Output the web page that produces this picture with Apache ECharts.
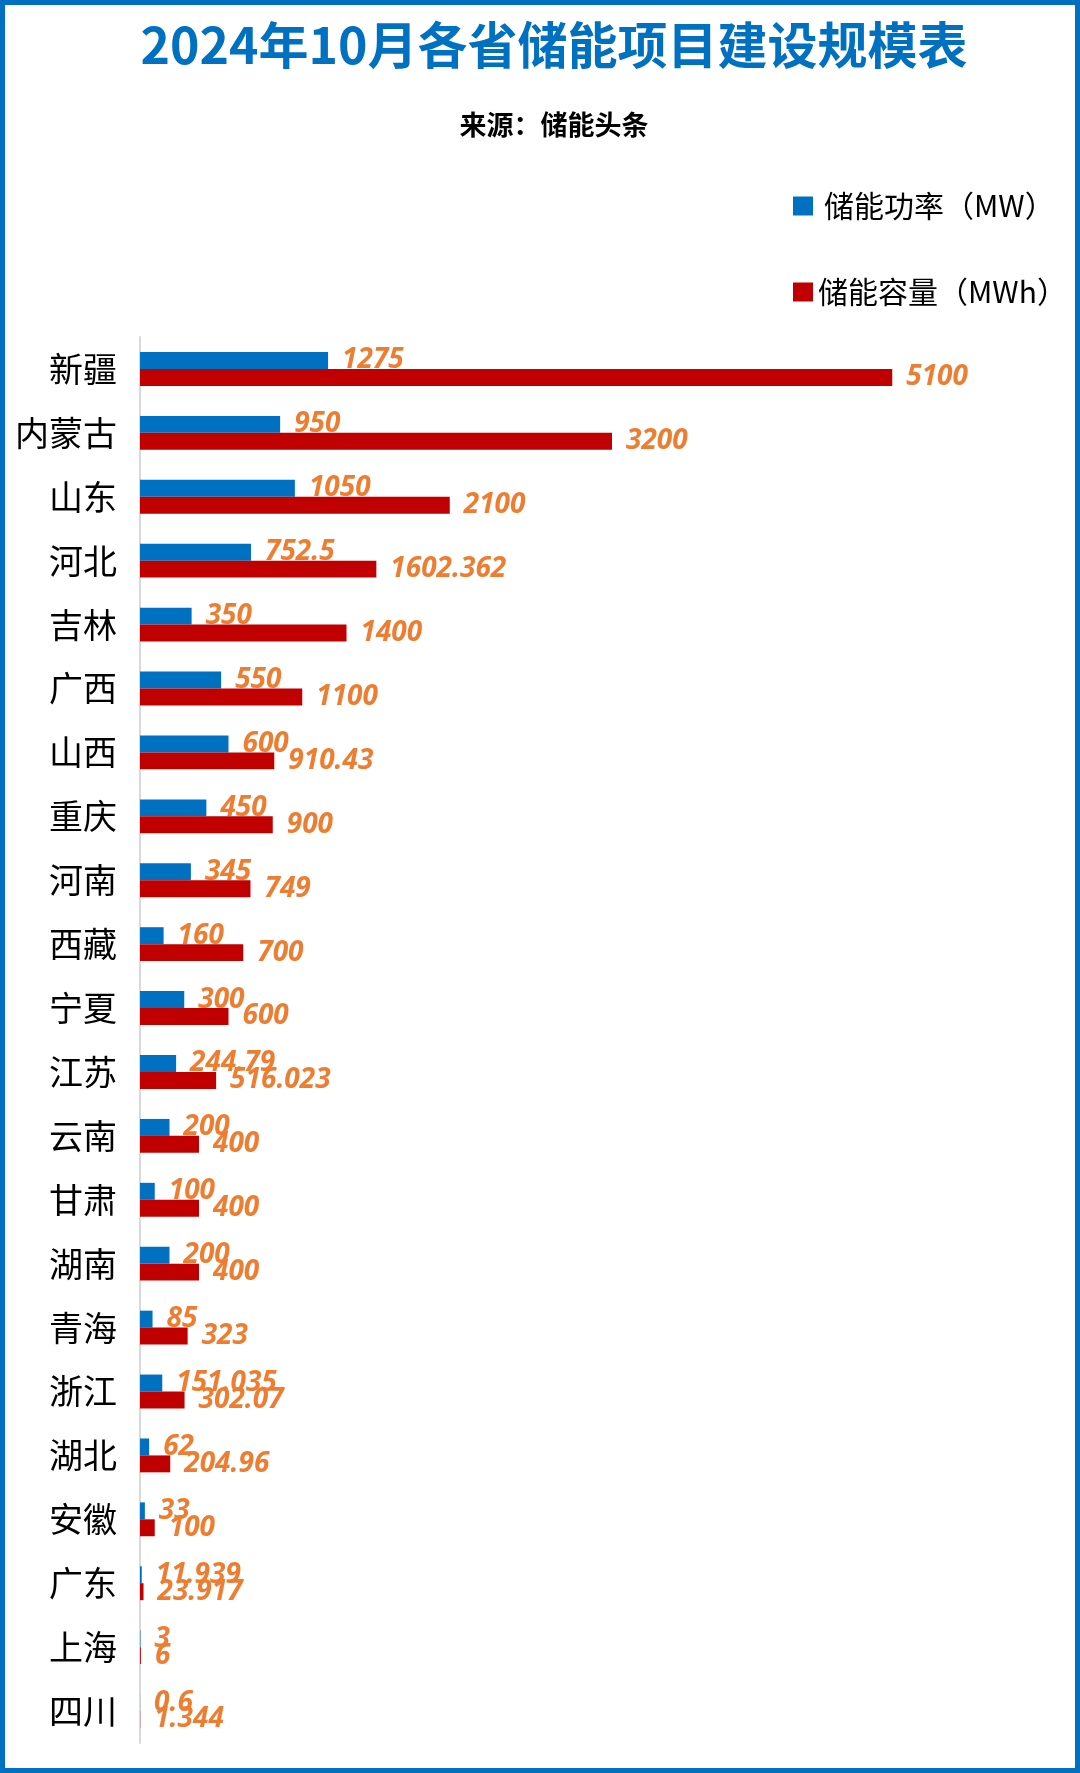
<!DOCTYPE html>
<html>
<head>
<meta charset="utf-8">
<title>2024年10月各省储能项目建设规模表</title>
<script src="https://cdn.jsdelivr.net/npm/echarts@6/dist/echarts.min.js"></script>
<style>
  html, body { margin: 0; padding: 0; background: #fff; }
  #chart { width: 1080px; height: 1773px; }
</style>
</head>
<body>
<div id="chart"></div>
<script>
// 省份（从上到下）
const provinces = ['新疆', '内蒙古', '山东', '河北', '吉林', '广西', '山西', '重庆', '河南', '西藏', '宁夏',
  '江苏', '云南', '甘肃', '湖南', '青海', '浙江', '湖北', '安徽', '广东', '上海', '四川']
// 储能功率（MW）
const powerMW = [1275, 950, 1050, 752.5, 350, 550, 600, 450, 345, 160, 300,
  244.79, 200, 100, 200, 85, 151.035, 62, 33, 11.939, 3, 0.6]
// 储能容量（MWh）
const capacityMWh = [5100, 3200, 2100, 1602.362, 1400, 1100, 910.43, 900, 749, 700, 600,
  516.023, 400, 400, 400, 323, 302.07, 204.96, 100, 23.917, 6, 1.344]

const seriesNames = ['储能功率（MW）', '储能容量（MWh）']

const CJK = '"Noto Sans CJK SC", "Noto Sans", sans-serif'
const labelStyle = {
  show: true,
  position: 'right',
  distance: 14,
  color: '#ED7D31',
  fontStyle: 'italic',
  fontWeight: 'bold',
  fontSize: 28,
  fontFamily: '"Open Sans", "Noto Sans", sans-serif',
  formatter: p => p.value
}

const chart = echarts.init(document.getElementById('chart'))
chart.setOption({
  animation: false,
  title: [
    {
      text: '2024年10月各省储能项目建设规模表',
      left: 549, top: 10, textAlign: 'center',
      textStyle: { color: '#0070C0', fontSize: 50, fontWeight: 'bold', fontFamily: CJK, lineHeight: 60 }
    },
    {
      text: '来源：储能头条',
      left: 549, top: 104, textAlign: 'center',
      textStyle: { color: '#000', fontSize: 27, fontWeight: 'bold', fontFamily: CJK, lineHeight: 32 }
    }
  ],
  // 两个图例分开放，方便各自定位
  legend: [
    {
      data: [seriesNames[0]],
      left: 793, top: 188, padding: 0,
      icon: 'rect', itemWidth: 20, itemHeight: 19,
      textStyle: { color: '#000', fontSize: 30, lineHeight: 36, fontFamily: CJK, padding: [0, 0, 0, 6] }
    },
    {
      data: [seriesNames[1]],
      left: 793, top: 274, padding: 0,
      icon: 'rect', itemWidth: 20, itemHeight: 19,
      textStyle: { color: '#000', fontSize: 30, lineHeight: 36, fontFamily: CJK }
    }
  ],
  grid: { left: 140, top: 337, right: 55, bottom: 30, containLabel: false },
  xAxis: {
    type: 'value',
    min: 0,
    max: 6000,
    show: false,
    splitLine: { show: false }
  },
  yAxis: {
    type: 'category',
    inverse: true,
    data: provinces,
    axisLine: { show: true, lineStyle: { color: '#d9d9d9', width: 2 } },
    axisTick: { show: false },
    axisLabel: { color: '#000', fontSize: 34, fontFamily: CJK, margin: 23 }
  },
  series: [
    {
      name: seriesNames[0],
      type: 'bar',
      data: powerMW,
      barGap: '0%',
      barCategoryGap: '47%',
      itemStyle: { color: '#0070C0' },
      label: labelStyle
    },
    {
      name: seriesNames[1],
      type: 'bar',
      data: capacityMWh,
      barGap: '0%',
      barCategoryGap: '47%',
      itemStyle: { color: '#C00000' },
      label: labelStyle
    }
  ],
  // 外框
  graphic: [{
    type: 'rect',
    shape: { x: 2.5, y: 2.5, width: 1075, height: 1768 },
    style: { fill: 'none', stroke: '#0070C0', lineWidth: 5 },
    silent: true,
    z: 100
  }]
})
</script>
</body>
</html>
